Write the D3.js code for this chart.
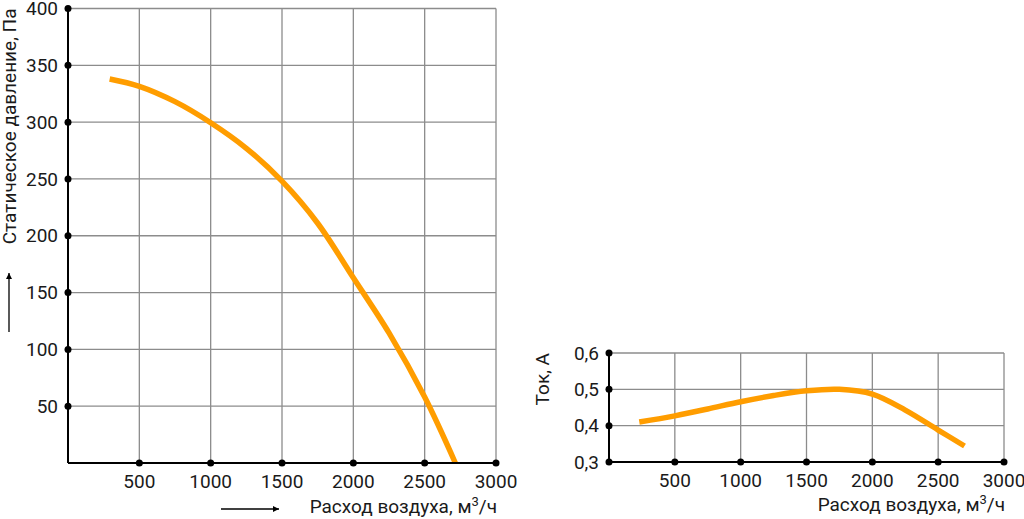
<!DOCTYPE html>
<html>
<head>
<meta charset="utf-8">
<script src="https://cdn.jsdelivr.net/npm/d3@7/dist/d3.min.js"></script>
<style>
  body { margin: 0; background: #fff; }
  text { font-family: Roboto, "Noto Sans", sans-serif; fill: #1a1a1a; }
</style>
</head>
<body>
<div id="main"></div>
<script>

//=============== DATA ===================
var flowTicks = [500, 1000, 1500, 2000, 2500, 3000];

var pressureTicks = [50, 100, 150, 200, 250, 300, 350, 400];
var pressureFlow = [292, 500, 750, 1000, 1250, 1500, 1750, 2000, 2250, 2500, 2715];
var pressureVals = [338, 331.5, 318, 299.5, 277, 248, 211, 163, 114.5, 58, 0];

var currentTicks = [0.3, 0.4, 0.5, 0.6];
var currentFlow = [230, 500, 750, 1000, 1250, 1500, 1750, 2000, 2250, 2500, 2700];
var currentVals = [0.410, 0.427, 0.446, 0.466, 0.483, 0.496, 0.500, 0.487, 0.443, 0.388, 0.344];

//=============== SETUP ===================
var W = 1024, H = 519,
    orange = "#ff9d00",
    gridCol = "#8c8c8c";

var svg = d3.select("#main").append("svg")
    .attr("width", W)
    .attr("height", H);

var comma = d3.formatLocale({decimal: ",", thousands: "", grouping: [3], currency: ["", ""]}).format(".1f");

function drawPanel(opt){
	var x = d3.scaleLinear().domain([0, 3000]).range([opt.x0, opt.x1]);
	var y = d3.scaleLinear().domain(opt.yDomain).range([opt.y0, opt.y1]);
	var g = svg.append("g");

	// grid
	g.selectAll(".vgrid").data(flowTicks).enter().append("line")
		.attr("x1", function(d){ return x(d); })
		.attr("x2", function(d){ return x(d); })
		.attr("y1", y.range()[0])
		.attr("y2", y.range()[1])
		.attr("stroke", gridCol)
		.attr("stroke-width", 1.3);

	g.selectAll(".hgrid").data(opt.yTicks.filter(function(d){ return d > opt.yDomain[0]; })).enter().append("line")
		.attr("x1", x.range()[0])
		.attr("x2", x.range()[1])
		.attr("y1", function(d){ return y(d); })
		.attr("y2", function(d){ return y(d); })
		.attr("stroke", gridCol)
		.attr("stroke-width", 1.3);

	// curve
	var line = d3.line()
		.x(function(d){ return x(d[0]); })
		.y(function(d){ return y(d[1]); })
		.curve(d3.curveCatmullRom.alpha(0.5));

	g.append("path")
		.datum(d3.zip(opt.flow, opt.vals))
		.attr("d", line)
		.attr("fill", "none")
		.attr("stroke", orange)
		.attr("stroke-width", 5.5);

	// axes
	g.append("line")
		.attr("x1", x(0)).attr("x2", x(3000))
		.attr("y1", y(opt.yDomain[0])).attr("y2", y(opt.yDomain[0]))
		.attr("stroke", "#000").attr("stroke-width", 2);
	g.append("line")
		.attr("x1", x(0)).attr("x2", x(0))
		.attr("y1", y(opt.yDomain[0])).attr("y2", y(opt.yDomain[1]))
		.attr("stroke", "#000").attr("stroke-width", 2);

	// tick dots
	g.selectAll(".xdot").data(flowTicks).enter().append("circle")
		.attr("cx", function(d){ return x(d); })
		.attr("cy", y(opt.yDomain[0]))
		.attr("r", 3.5);
	g.selectAll(".ydot").data(opt.yTicks).enter().append("circle")
		.attr("cx", x(0))
		.attr("cy", function(d){ return y(d); })
		.attr("r", 3.5);

	// tick labels
	g.selectAll(".xlab").data(flowTicks).enter().append("text")
		.attr("x", function(d){ return x(d); })
		.attr("y", y(opt.yDomain[0]) + 25)
		.attr("text-anchor", "middle")
		.attr("font-size", 19)
		.text(function(d){ return d; });
	g.selectAll(".ylab").data(opt.yTicks).enter().append("text")
		.attr("x", x(0) - 10)
		.attr("y", function(d){ return y(d); })
		.attr("dy", "0.35em")
		.attr("text-anchor", "end")
		.attr("font-size", 19)
		.text(opt.fmt);

	// x title
	var xt = g.append("text")
		.attr("x", x(3000) + 1)
		.attr("y", opt.xTitleY)
		.attr("text-anchor", "end")
		.attr("font-size", 19);
	xt.append("tspan").text("Расход воздуха, м");
	xt.append("tspan").attr("dy", -7).attr("font-size", 13).text("3");
	xt.append("tspan").attr("dy", 7).text("/ч");

	// y title
	g.append("text")
		.attr("transform", "translate(" + opt.yTitleX + "," + y(opt.yDomain[1]) + ") rotate(-90)")
		.attr("text-anchor", "end")
		.attr("font-size", 19)
		.text(opt.yTitle);

	return {x: x, y: y};
}

var left = drawPanel({
	x0: 68, x1: 496, y0: 463, y1: 8.5,
	yDomain: [0, 400], yTicks: pressureTicks,
	flow: pressureFlow, vals: pressureVals,
	fmt: function(d){ return d; },
	xTitleY: 513, yTitleX: 16,
	yTitle: "Статическое давление, Па"
});

var right = drawPanel({
	x0: 609, x1: 1004, y0: 462, y1: 353,
	yDomain: [0.3, 0.6], yTicks: currentTicks,
	flow: currentFlow, vals: currentVals,
	fmt: function(d){ return comma(d); },
	xTitleY: 511, yTitleX: 549,
	yTitle: "Ток, А"
});

//=============== ARROWS ===================
var defs = svg.append("defs");
defs.append("marker")
	.attr("id", "head")
	.attr("viewBox", "0 0 10 10")
	.attr("refX", 10).attr("refY", 5)
	.attr("markerWidth", 13).attr("markerHeight", 6)
	.attr("markerUnits", "userSpaceOnUse")
	.attr("orient", "auto")
  .append("path")
	.attr("d", "M0,0L10,5L0,10Z")
	.attr("fill", "#000");

svg.append("line")
	.attr("x1", 221).attr("x2", 279)
	.attr("y1", 509).attr("y2", 509)
	.attr("stroke", "#000").attr("stroke-width", 1.3)
	.attr("marker-end", "url(#head)");

svg.append("line")
	.attr("x1", 9).attr("x2", 9)
	.attr("y1", 332).attr("y2", 273)
	.attr("stroke", "#000").attr("stroke-width", 1.3)
	.attr("marker-end", "url(#head)");

</script>
</body>
</html>
